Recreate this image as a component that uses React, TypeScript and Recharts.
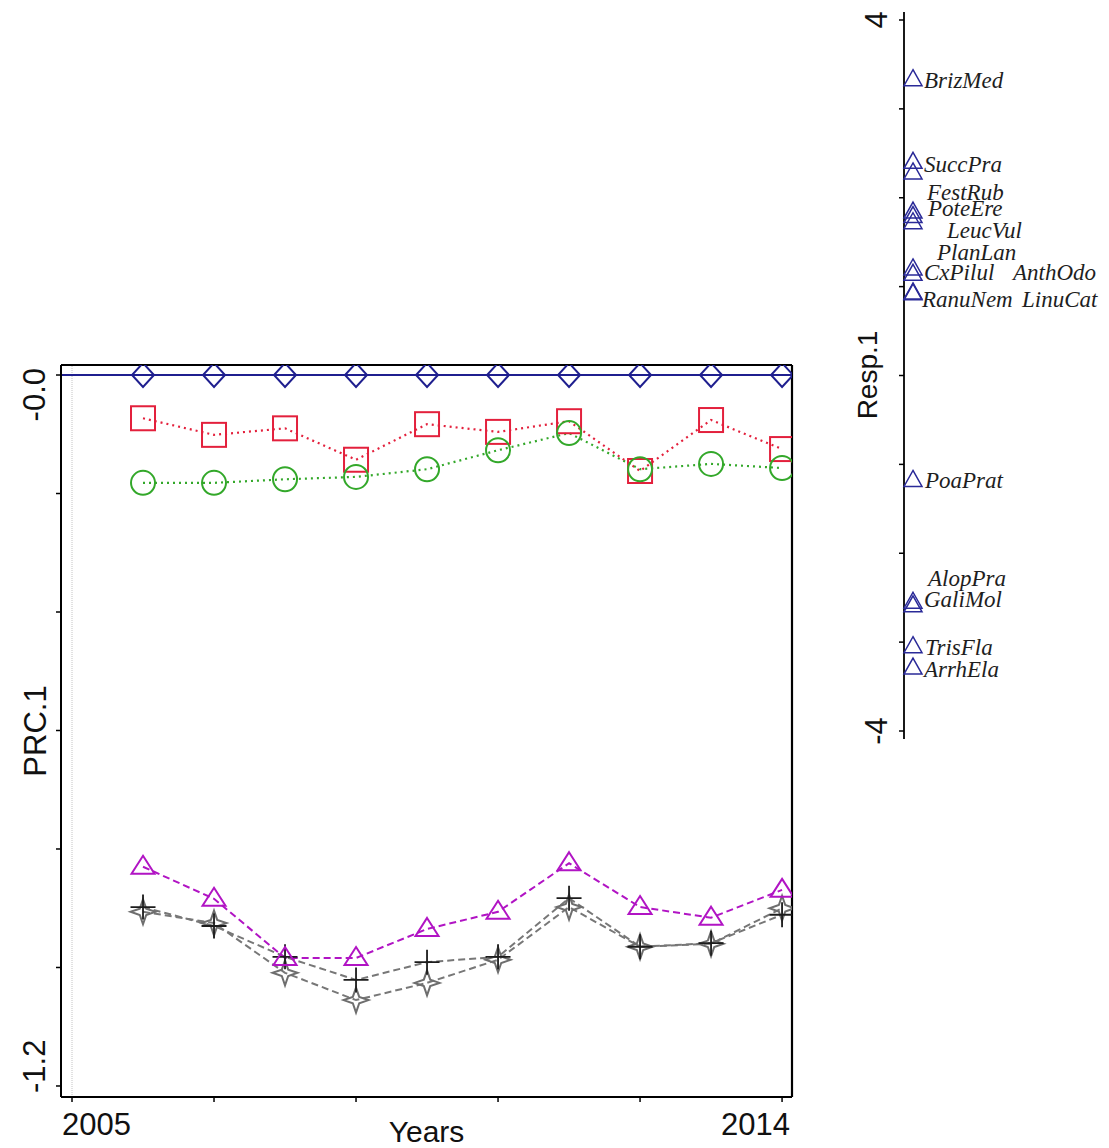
import React from 'react';
import { ComposedChart, Line, XAxis, YAxis, ReferenceLine, ScatterChart, Scatter } from 'recharts';

// ---------- data ----------
const samplingPoints = [1, 2, 3, 4, 5, 6, 7, 8, 9, 10];
const xTicks = [0, 2, 4, 6, 8, 10];
const xTickLabels = ['2005', '', '', '', '', '2014'];
const yTicks = [0, -0.2, -0.4, -0.6, -0.8, -1.0, -1.2];
const yTickLabels = ['-0.0', '', '', '', '', '', '-1.2'];

const controlPRC = [0, 0, 0, 0, 0, 0, 0, 0, 0, 0];
const squarePRC = [-0.073, -0.101, -0.090, -0.143, -0.083, -0.096, -0.078, -0.162, -0.076, -0.125];
const circlePRC = [-0.182, -0.182, -0.176, -0.172, -0.159, -0.127, -0.098, -0.159, -0.150, -0.157];
const trianglePRC = [-0.830, -0.884, -0.984, -0.984, -0.935, -0.906, -0.824, -0.898, -0.916, -0.869];
const plusPRC = [-0.898, -0.930, -0.982, -1.021, -0.991, -0.982, -0.883, -0.965, -0.959, -0.911];
const starPRC = [-0.906, -0.925, -1.009, -1.055, -1.026, -0.987, -0.898, -0.965, -0.960, -0.900];

const speciesNames = ['BrizMed', 'SuccPra', 'FestRub', 'PoteEre', 'LeucVul', 'PlanLan', 'CxPilul', 'AnthOdo', 'RanuNem', 'LinuCat', 'PoaPrat', 'AlopPra', 'GaliMol', 'TrisFla', 'ArrhEla'];
const speciesScores = [3.34, 2.41, 2.29, 1.85, 1.80, 1.73, 1.21, 1.15, 0.94, 0.93, -1.17, -2.54, -2.58, -3.04, -3.28];
const labelScores = [3.33, 2.38, 2.07, 1.88, 1.64, 1.39, 1.17, 1.17, 0.86, 0.86, -1.18, -2.28, -2.52, -3.05, -3.30];
const labelShift = [20, 20, 23, 24, 43, 33, 20, 109, 18, 118, 21, 24, 20, 21, 20];

const respTicks = [-4, -3, -2, -1, 0, 1, 2, 3, 4];
const respTickLabels = ['-4', '', '', '', '', '', '', '', '4'];

// ---------- tables ----------
const prcData = samplingPoints.map((t, i) => ({
  t,
  control: controlPRC[i],
  square: squarePRC[i],
  circle: circlePRC[i],
  triangle: trianglePRC[i],
  plus: plusPRC[i],
  star: starPRC[i],
}));
const speciesPoints = speciesNames.map((name, i) => ({ x: 0, y: speciesScores[i], name }));
const speciesLabelPoints = speciesNames.map((name, i) => ({ x: 0, y: labelScores[i], name, shift: labelShift[i] }));

// ---------- axis ranges ----------
const X_DOMAIN: [number, number] = [-0.155, 10.14];
const Y_DOMAIN: [number, number] = [-1.2186, 0.0169];

// ---------- styles ----------
const NAVY = '#1f1f8f';
const RED = '#e3203c';
const GREEN = '#33a82a';
const MAGENTA = '#b114c4';
const DASHGRAY = '#777777';
const PLUS = '#1c1c1c';
const STARGRAY = '#6e6e6e';
const SPNAVY = '#2a2a98';
const SANS = '"Liberation Sans", Arial, sans-serif';
const SERIF = '"Liberation Serif", "Times New Roman", serif';

// ---------- marker shapes ----------
const diamondDot = (p: any) => {
  const { cx, cy, index } = p;
  if (cx == null || cy == null) return <g key={`dm${index}`} />;
  return (
    <polygon key={`dm${index}`} points={`${cx},${cy - 12} ${cx + 11},${cy} ${cx},${cy + 12} ${cx - 11},${cy}`}
      fill="none" stroke={NAVY} strokeWidth={2} />
  );
};
const squareDot = (p: any) => {
  const { cx, cy, index } = p;
  if (cx == null || cy == null) return <g key={`sq${index}`} />;
  return <rect key={`sq${index}`} x={cx - 12} y={cy - 12} width={24} height={24} fill="none" stroke={RED} strokeWidth={2} />;
};
const circleDot = (p: any) => {
  const { cx, cy, index } = p;
  if (cx == null || cy == null) return <g key={`ci${index}`} />;
  return <circle key={`ci${index}`} cx={cx} cy={cy} r={12} fill="none" stroke={GREEN} strokeWidth={2} />;
};
const triangleDot = (p: any) => {
  const { cx, cy, index } = p;
  if (cx == null || cy == null) return <g key={`tr${index}`} />;
  return (
    <polygon key={`tr${index}`} points={`${cx},${cy - 11} ${cx + 11.5},${cy + 7} ${cx - 11.5},${cy + 7}`}
      fill="none" stroke={MAGENTA} strokeWidth={2} />
  );
};
const plusDot = (p: any) => {
  const { cx, cy, index } = p;
  if (cx == null || cy == null) return <g key={`pl${index}`} />;
  return (
    <path key={`pl${index}`} d={`M${cx - 12.5},${cy}H${cx + 12.5}M${cx},${cy - 12.5}V${cy + 12.5}`}
      stroke={PLUS} strokeWidth={1.8} fill="none" />
  );
};
const starDot = (p: any) => {
  const { cx, cy, index } = p;
  if (cx == null || cy == null) return <g key={`st${index}`} />;
  const a = 12.5, b = 3.2;
  const pts = [
    [cx, cy - a], [cx + b, cy - b], [cx + a, cy], [cx + b, cy + b],
    [cx, cy + a], [cx - b, cy + b], [cx - a, cy], [cx - b, cy - b],
  ].map((q) => q.join(',')).join(' ');
  return <polygon key={`st${index}`} points={pts} fill="none" stroke={STARGRAY} strokeWidth={2} />;
};

// ---------- ticks & titles ----------
const XTick = (props: any) => {
  const { x, y, payload } = props;
  const idx = xTicks.indexOf(payload.value);
  const label = idx >= 0 ? xTickLabels[idx] : '';
  if (!label) return null;
  const first = idx === 0;
  return (
    <text x={first ? x - 10 : x + 8} y={y + 31} textAnchor={first ? 'start' : 'end'}
      fontFamily={SANS} fontSize={31} fill="#111">{label}</text>
  );
};
const YTick = (props: any) => {
  const { y, payload } = props;
  const idx = yTicks.indexOf(payload.value);
  const label = idx >= 0 ? yTickLabels[idx] : '';
  if (!label) return null;
  const top = idx === 0;
  const bx = 45;
  const by = top ? y - 7 : y + 7;
  return (
    <text x={bx} y={by} transform={`rotate(-90, ${bx}, ${by})`} textAnchor={top ? 'end' : 'start'}
      fontFamily={SANS} fontSize={31} fill="#111">{label}</text>
  );
};
const XTitle = () => (
  <text x={426.5} y={1142} textAnchor="middle" fontFamily={SANS} fontSize={30} fill="#111">Years</text>
);
const YTitle = () => (
  <text x={46} y={731} transform="rotate(-90, 46, 731)" textAnchor="middle" fontFamily={SANS} fontSize={31} fill="#111">PRC.1</text>
);
const RespTick = (props: any) => {
  const { y, payload } = props;
  const idx = respTicks.indexOf(payload.value);
  const label = idx >= 0 ? respTickLabels[idx] : '';
  if (!label) return null;
  const bx = 887;
  return (
    <text x={bx} y={y} transform={`rotate(-90, ${bx}, ${y})`} textAnchor="middle"
      fontFamily={SANS} fontSize={31} fill="#111">{label}</text>
  );
};
const RespTitle = () => (
  <text x={877} y={375} transform="rotate(-90, 877, 375)" textAnchor="middle" fontFamily={SANS} fontSize={28} fill="#111">Resp.1</text>
);

const SpeciesTriangle = (props: any) => {
  const { cx, cy } = props;
  if (cx == null || cy == null) return null;
  const c = cx + 9;
  return (
    <polygon points={`${c},${cy - 9} ${c + 9},${cy + 7} ${c - 9},${cy + 7}`} fill="none" stroke={SPNAVY} strokeWidth={1.5} />
  );
};
const SpeciesLabel = (props: any) => {
  const { cx, cy, payload } = props;
  if (cx == null || cy == null) return null;
  return (
    <text x={cx + payload.shift} y={cy + 8} fontFamily={SERIF} fontStyle="italic" fontSize={23} fill="#1e1e1e">{payload.name}</text>
  );
};

export default function App() {
  return (
    <div style={{ position: 'absolute', left: 0, top: 0, width: 1109, height: 1148, background: '#fff' }}>
      <div style={{ position: 'absolute', left: 0, top: 0 }}>
        <ComposedChart width={800} height={1148} data={prcData} margin={{ top: 365, right: 8, bottom: 0, left: 0 }}>
          <XAxis dataKey="t" type="number" domain={X_DOMAIN} ticks={xTicks} interval={0} allowDataOverflow
            height={51} tickSize={5} tick={<XTick />} axisLine={{ stroke: '#000', strokeWidth: 2 }}
            tickLine={{ stroke: '#000', strokeWidth: 1.5 }} label={<XTitle />} />
          <YAxis type="number" domain={Y_DOMAIN} ticks={yTicks} interval={0} allowDataOverflow width={61}
            tickSize={5} tick={<YTick />} axisLine={{ stroke: '#000', strokeWidth: 2 }}
            tickLine={{ stroke: '#000', strokeWidth: 1.5 }} label={<YTitle />} />
          <ReferenceLine x={0} stroke="#c4c4c4" strokeWidth={1} strokeDasharray="1 1" />
          <ReferenceLine y={Y_DOMAIN[1]} stroke="#000" strokeWidth={2.2} />
          <ReferenceLine x={X_DOMAIN[1]} stroke="#000" strokeWidth={2.2} />
          <ReferenceLine y={0} stroke={NAVY} strokeWidth={2} />
          <Line dataKey="control" stroke={NAVY} strokeWidth={2} dot={diamondDot} isAnimationActive={false} />
          <Line dataKey="square" stroke={RED} strokeWidth={2.2} strokeDasharray="2 4" dot={squareDot} isAnimationActive={false} />
          <Line dataKey="circle" stroke={GREEN} strokeWidth={2.2} strokeDasharray="2 4" dot={circleDot} isAnimationActive={false} />
          <Line dataKey="star" stroke={DASHGRAY} strokeWidth={2} strokeDasharray="7 4" dot={starDot} isAnimationActive={false} />
          <Line dataKey="plus" stroke={DASHGRAY} strokeWidth={2} strokeDasharray="7 4" dot={plusDot} isAnimationActive={false} />
          <Line dataKey="triangle" stroke={MAGENTA} strokeWidth={2} strokeDasharray="7 4" dot={triangleDot} isAnimationActive={false} />
        </ComposedChart>
      </div>
      <div style={{ position: 'absolute', left: 0, top: 0 }}>
        <ScatterChart width={1109} height={1148} margin={{ top: 12, right: 0, bottom: 409, left: 850 }}>
          <XAxis type="number" dataKey="x" domain={[0, 1]} hide height={0} />
          <YAxis type="number" dataKey="y" domain={[-4.09, 4.09]} ticks={respTicks} interval={0} allowDataOverflow width={54}
            tickSize={5} tick={<RespTick />} axisLine={{ stroke: '#000', strokeWidth: 1.8 }}
            tickLine={{ stroke: '#000', strokeWidth: 1.5 }} label={<RespTitle />} />
          <Scatter data={speciesPoints} shape={<SpeciesTriangle />} isAnimationActive={false} />
          <Scatter data={speciesLabelPoints} shape={<SpeciesLabel />} isAnimationActive={false} />
        </ScatterChart>
      </div>
    </div>
  );
}
